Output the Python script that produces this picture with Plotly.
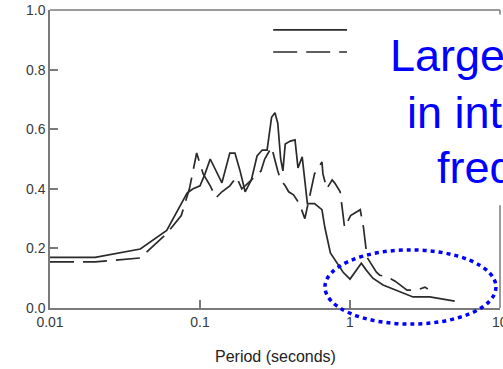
import plotly.graph_objects as go

# Solid series (period in seconds, spectral value)
period_solid = [0.01, 0.02, 0.04, 0.06, 0.082, 0.09, 0.1, 0.108, 0.117, 0.14, 0.158, 0.171,
                0.185, 0.2, 0.22, 0.24, 0.26, 0.28, 0.30, 0.316, 0.33, 0.345, 0.357, 0.37,
                0.40, 0.43, 0.45, 0.48, 0.52, 0.58, 0.65, 0.68, 0.74, 0.8, 0.9, 1.0, 1.11,
                1.19, 1.28, 1.42, 1.66, 2.04, 2.63, 3.4, 4.18, 4.99]
value_solid = [0.17, 0.17, 0.198, 0.26, 0.386, 0.40, 0.41, 0.45, 0.50, 0.42, 0.52, 0.52,
               0.46, 0.39, 0.43, 0.51, 0.53, 0.53, 0.64, 0.655, 0.62, 0.50, 0.46, 0.55,
               0.56, 0.564, 0.47, 0.507, 0.35, 0.35, 0.33, 0.27, 0.185, 0.16, 0.12, 0.097, 0.128,
               0.15, 0.128, 0.10, 0.077, 0.06, 0.037, 0.037, 0.03, 0.023]

# Dashed series
period_dash = [0.01, 0.02, 0.04, 0.06, 0.075, 0.085, 0.095, 0.105, 0.117, 0.128, 0.14, 0.158,
               0.175, 0.19, 0.21, 0.23, 0.255, 0.27, 0.30, 0.33, 0.345, 0.37, 0.39, 0.42,
               0.46, 0.50, 0.56, 0.58, 0.65, 0.66, 0.70, 0.76, 0.79, 0.86, 0.90, 0.92,
               1.01, 1.17, 1.23, 1.30, 1.50, 1.58, 1.78, 2.0, 2.4, 2.8, 3.16, 3.3]
value_dash = [0.155, 0.155, 0.168, 0.25, 0.31, 0.40, 0.52, 0.45, 0.41, 0.37, 0.39, 0.41,
              0.44, 0.40, 0.42, 0.44, 0.46, 0.50, 0.54, 0.46, 0.43, 0.41, 0.39, 0.38,
              0.35, 0.30, 0.42, 0.45, 0.49, 0.45, 0.40, 0.43, 0.42, 0.39, 0.31, 0.27,
              0.31, 0.33, 0.27, 0.17, 0.12, 0.11, 0.104, 0.09, 0.06, 0.06, 0.07, 0.064]

x_tickvals = [0.01, 0.1, 1]
x_ticktext = ["0.01", "0.1", "1"]
x_edge_label = "10"
y_tickvals = [0.0, 0.2, 0.4, 0.6, 0.8, 1.0]
y_ticktext = ["0.0", "0.2", "0.4", "0.6", "0.8", "1.0"]
x_title = "Period (seconds)"

note_lines = ["Large", "in int", "freq"]

FONT = "Liberation Sans, Arial, sans-serif"
LINE_COLOR = "#2a2a2a"
AXIS_COLOR = "#7a7a7a"
TICK_COLOR = "#3a3a3a"

fig = go.Figure()
fig.add_trace(go.Scatter(x=period_solid, y=value_solid, mode="lines",
                         line=dict(color=LINE_COLOR, width=1.7), showlegend=False))
fig.add_trace(go.Scatter(x=period_dash, y=value_dash, mode="lines",
                         line=dict(color=LINE_COLOR, width=1.7, dash="24px,9px"),
                         showlegend=False))

fig.update_layout(
    width=503, height=369,
    margin=dict(l=50, r=3, t=10, b=61, autoexpand=False),
    paper_bgcolor="white", plot_bgcolor="white",
    font=dict(family=FONT, color=TICK_COLOR, size=14),
    xaxis=dict(type="log", range=[-2, 1], tickvals=x_tickvals, ticktext=x_ticktext,
               ticks="inside", ticklen=8, tickwidth=1.5, tickcolor=AXIS_COLOR,
               showline=True, linecolor=AXIS_COLOR, linewidth=1.5, mirror=False,
               showgrid=False, zeroline=False, automargin=False,
               tickfont=dict(size=14, color=TICK_COLOR)),
    yaxis=dict(range=[0, 1], tickvals=y_tickvals, ticktext=y_ticktext,
               ticks="inside", ticklen=8, tickwidth=1.5, tickcolor=AXIS_COLOR,
               showline=True, linecolor=AXIS_COLOR, linewidth=1.5, mirror=False,
               showgrid=False, zeroline=False, automargin=False,
               tickfont=dict(size=14, color=TICK_COLOR)),
)

shapes = [
    # top border
    dict(type="line", xref="paper", yref="paper", x0=0, x1=1, y0=1, y1=1,
         line=dict(color=AXIS_COLOR, width=1.5)),
    dict(type="line", xref="paper", yref="paper", x0=1, x1=1, y0=0.985, y1=1,
         line=dict(color=AXIS_COLOR, width=1.5)),
    # right border (lower part visible)
    dict(type="line", xref="paper", yref="paper", x0=1, x1=1, y0=0, y1=0.345,
         line=dict(color=AXIS_COLOR, width=1.5)),
    # legend lines
    dict(type="line", xref="paper", yref="paper", x0=0.496, x1=0.66, y0=0.933, y1=0.933,
         line=dict(color=LINE_COLOR, width=1.7)),
    dict(type="line", xref="paper", yref="paper", x0=0.496, x1=0.66, y0=0.859, y1=0.859,
         line=dict(color=LINE_COLOR, width=1.7, dash="24px,9px")),
    # highlight ellipse
    dict(type="circle", xref="paper", yref="paper", x0=0.611, x1=0.991, y0=-0.054, y1=0.195,
         line=dict(color="#0000ff", width=3.5, dash="4px,4px")),
]
fig.update_layout(shapes=shapes)

# edge tick label "10" (partly outside the window, as in the reference)
fig.add_annotation(text=x_edge_label, xref="paper", yref="paper", x=1, y=0,
                   xanchor="center", yanchor="top", yshift=-4, showarrow=False,
                   font=dict(family=FONT, size=14, color=TICK_COLOR))

# axis title
fig.add_annotation(text=x_title, xref="paper", yref="paper", x=0.5, y=0,
                   xanchor="center", yanchor="top", yshift=-38, showarrow=False,
                   font=dict(family=FONT, size=16, color="#222222"))

note_x = [0.751, 0.789, 0.856]
note_baseline_px = [73, 130, 185]
for txt, xp, bpx in zip(note_lines, note_x, note_baseline_px):
    fig.add_annotation(text=txt, xref="paper", yref="paper", x=xp,
                       y=(308 - bpx) / 298, xanchor="left", yanchor="bottom",
                       showarrow=False, yshift=-9.5,
                       font=dict(family=FONT, size=45, color="#0000ff"))

fig.write_html("out.html")
